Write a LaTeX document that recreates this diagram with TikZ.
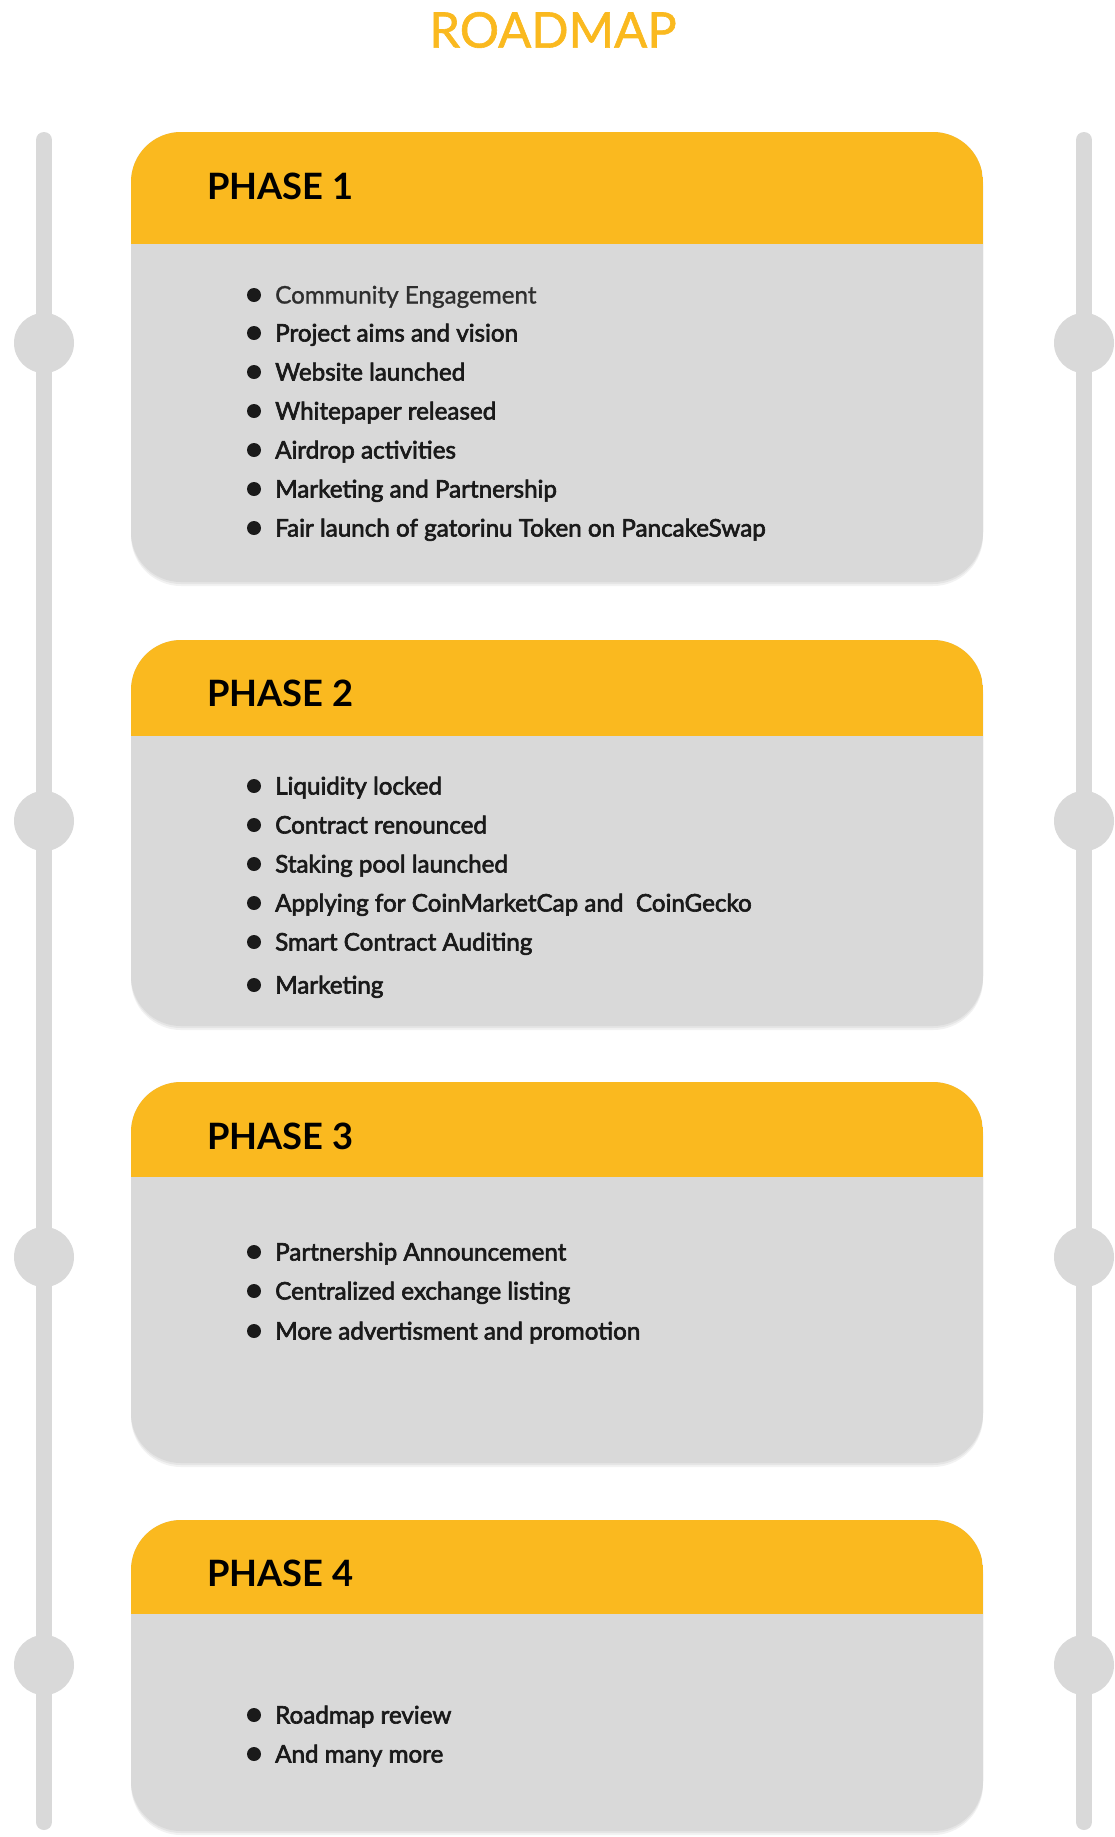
\documentclass[tikz,border=0pt]{standalone}
\usepackage{fontspec}
\setmainfont{Lato}
\newfontfamily\latomed{Lato}[FakeBold=2.6]
\newfontfamily\latosoft{Lato}[FakeBold=1.2]
\definecolor{gold}{HTML}{FAB91F}
\definecolor{panel}{HTML}{D9D9D9}
\definecolor{ink}{HTML}{1A1A1A}
\definecolor{softink}{HTML}{2E2E2E}

\tikzset{
  rail/.style={draw=panel, line width=16pt, line cap=round},
  knob/.style={circle, fill=panel, minimum size=60pt, inner sep=0pt},
  phasetitle/.style={anchor=west, inner sep=0pt, font=\bfseries\fontsize{36.3}{36.3}\selectfont, text=black},
  itemtext/.style={anchor=base west, inner sep=0pt, font=\latomed\fontsize{24.2}{24.2}\selectfont, text=ink},
  dot/.style={circle, fill=ink, minimum size=14pt, inner sep=0pt}
}

% card: top, header bottom, card bottom
\newcommand\phasecard[3]{%
  \fill[black, opacity=0.05, rounded corners=50pt] (131,#1+4) rectangle (983,#3+4);
  \fill[black, opacity=0.05, rounded corners=50pt] (131,#1+2) rectangle (983,#3+2);
  \fill[panel, rounded corners=50pt] (131,#1) rectangle (983,#3);
  \begin{scope}
    \clip[rounded corners=50pt] (131,#1) rectangle (983,#3);
    \fill[gold] (131,#1) rectangle (983,#2);
  \end{scope}}

% bullet row: name, centre y, text
\newcommand\bulletrow[3]{%
  \node[dot] (#1d) at (254,#2) {};
  \node[itemtext] (#1) at (275,#2+8.5) {#3};}

\begin{document}
\begin{tikzpicture}[x=1pt, y=-1pt]
\useasboundingbox (0,0) rectangle (1114,1837);
\fill[white] (0,0) rectangle (1114,1837);

% title
\node[inner sep=0pt, text=gold, font=\latosoft\fontsize{49}{49}\selectfont] (title) at (553,30) {ROADMAP};

% side rails with knobs
\coordinate (ltop) at (44,140);
\coordinate (lbot) at (44,1822);
\coordinate (rtop) at (1084,140);
\coordinate (rbot) at (1084,1822);
\draw[rail] (ltop) -- (lbot);
\draw[rail] (rtop) -- (rbot);
\foreach \y [count=\i] in {343,821,1257,1665} {
  \node[knob] (lk\i) at (44,\y) {};
  \node[knob] (rk\i) at (1084,\y) {};
}

% phase 1
\phasecard{132}{244}{582}
\node[phasetitle] (p1) at (207,186) {PHASE 1};
\node[dot] (a1d) at (254,295) {};
\node[itemtext, font=\latosoft\fontsize{24.2}{24.2}\selectfont, text=softink] (a1) at (275,303.5) {Community Engagement};
\bulletrow{a2}{333}{Project aims and vision}
\bulletrow{a3}{372}{Website launched}
\bulletrow{a4}{411}{Whitepaper released}
\bulletrow{a5}{450}{Airdrop activities}
\bulletrow{a6}{489}{Marketing and Partnership}
\bulletrow{a7}{528}{Fair launch of gatorinu Token on PancakeSwap}

% phase 2
\phasecard{640}{736}{1026}
\node[phasetitle] (p2) at (207,693) {PHASE 2};
\bulletrow{b1}{786}{Liquidity locked}
\bulletrow{b2}{825}{Contract renounced}
\bulletrow{b3}{864}{Staking pool launched}
\bulletrow{b4}{903}{Applying for CoinMarketCap and\ \ CoinGecko}
\bulletrow{b5}{942}{Smart Contract Auditing}
\bulletrow{b6}{985}{Marketing}

% phase 3
\phasecard{1082}{1177}{1463}
\node[phasetitle] (p3) at (207,1136) {PHASE 3};
\bulletrow{c1}{1252}{Partnership Announcement}
\bulletrow{c2}{1291}{Centralized exchange listing}
\bulletrow{c3}{1331}{More advertisment and promotion}

% phase 4
\phasecard{1520}{1614}{1831}
\node[phasetitle] (p4) at (207,1573) {PHASE 4};
\bulletrow{d1}{1715}{Roadmap review}
\bulletrow{d2}{1754}{And many more}
\end{tikzpicture}
\end{document}
